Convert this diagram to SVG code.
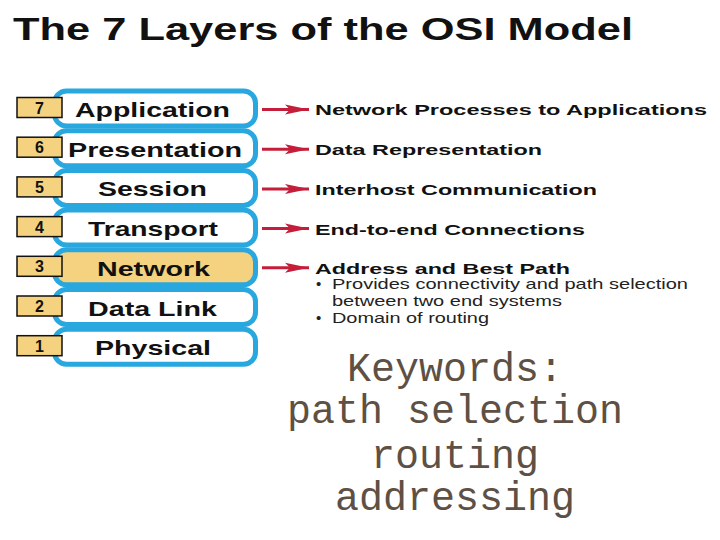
<svg xmlns="http://www.w3.org/2000/svg" width="720" height="540" viewBox="0 0 720 540">
<style>
.layer{fill:#ffffff;stroke:#29a8df;stroke-width:5}
.layer.hl{fill:#f4d27f}
.num{fill:#f4d27f;stroke:#111;stroke-width:1.5}
.numt{font-family:"Liberation Sans",Arial,sans-serif;font-weight:bold;font-size:16px;fill:#111;text-anchor:middle}
.lbl{font-family:"Liberation Sans",Arial,sans-serif;font-weight:bold;font-size:21px;fill:#111}
.desc{font-family:"Liberation Sans",Arial,sans-serif;font-weight:bold;font-size:15.5px;fill:#111}
.sub{font-family:"Liberation Sans",Arial,sans-serif;font-size:15px;fill:#222}
.kw{font-family:"Liberation Mono","Courier New",monospace;font-size:40px;fill:#5e5044;text-anchor:middle}
.arr{stroke:#c41e3a;stroke-width:3;fill:none}
</style>
<defs>
<marker id="ah" markerUnits="userSpaceOnUse" markerWidth="26" markerHeight="11" refX="24" refY="5.5" orient="auto">
<path d="M0,0.5 L24,5.5 L0,10.5 L5,5.5 Z" fill="#c41e3a"/>
</marker>
</defs>
<rect width="720" height="540" fill="#ffffff"/>
<text id="title" x="13" y="40" font-family="'Liberation Sans',Arial,sans-serif" font-weight="bold" font-size="32" fill="#111" textLength="620" lengthAdjust="spacingAndGlyphs">The 7 Layers of the OSI Model</text>

<g id="layer7">
<rect class="layer" x="54.5" y="91" width="201" height="35" rx="12"/>
<rect class="num" x="17" y="97.5" width="45" height="20"/>
<text class="numt" x="39.5" y="113.5">7</text>
<text class="lbl" x="75" y="117" textLength="155" lengthAdjust="spacingAndGlyphs">Application</text>
</g>
<g id="layer6">
<rect class="layer" x="54.5" y="130.7" width="201" height="35" rx="12"/>
<rect class="num" x="17" y="137.2" width="45" height="20"/>
<text class="numt" x="39.5" y="153.2">6</text>
<text class="lbl" x="68" y="156.7" textLength="174" lengthAdjust="spacingAndGlyphs">Presentation</text>
</g>
<g id="layer5">
<rect class="layer" x="54.5" y="170.4" width="201" height="35" rx="12"/>
<rect class="num" x="17" y="176.9" width="45" height="20"/>
<text class="numt" x="39.5" y="192.9">5</text>
<text class="lbl" x="98" y="196.4" textLength="109" lengthAdjust="spacingAndGlyphs">Session</text>
</g>
<g id="layer4">
<rect class="layer" x="54.5" y="210.1" width="201" height="35" rx="12"/>
<rect class="num" x="17" y="216.6" width="45" height="20"/>
<text class="numt" x="39.5" y="232.6">4</text>
<text class="lbl" x="88" y="236.1" textLength="130" lengthAdjust="spacingAndGlyphs">Transport</text>
</g>
<g id="layer3">
<rect class="layer hl" x="54.5" y="249.8" width="201" height="35" rx="12"/>
<rect class="num" x="17" y="256.3" width="45" height="20"/>
<text class="numt" x="39.5" y="272.3">3</text>
<text class="lbl" x="97" y="275.8" textLength="113" lengthAdjust="spacingAndGlyphs">Network</text>
</g>
<g id="layer2">
<rect class="layer" x="54.5" y="289.5" width="201" height="35" rx="12"/>
<rect class="num" x="17" y="296" width="45" height="20"/>
<text class="numt" x="39.5" y="312">2</text>
<text class="lbl" x="88" y="315.5" textLength="129" lengthAdjust="spacingAndGlyphs">Data Link</text>
</g>
<g id="layer1">
<rect class="layer" x="54.5" y="329.2" width="201" height="35" rx="12"/>
<rect class="num" x="17" y="335.7" width="45" height="20"/>
<text class="numt" x="39.5" y="351.7">1</text>
<text class="lbl" x="95" y="355.2" textLength="116" lengthAdjust="spacingAndGlyphs">Physical</text>
</g>

<g id="connectors">
<line class="arr" x1="262" y1="109.5" x2="309" y2="109.5" marker-end="url(#ah)"/>
<line class="arr" x1="262" y1="149.2" x2="309" y2="149.2" marker-end="url(#ah)"/>
<line class="arr" x1="262" y1="188.9" x2="309" y2="188.9" marker-end="url(#ah)"/>
<line class="arr" x1="262" y1="228.6" x2="309" y2="228.6" marker-end="url(#ah)"/>
<line class="arr" x1="262" y1="267.8" x2="309" y2="267.8" marker-end="url(#ah)"/>
</g>

<g id="desc7"><text class="desc" x="315" y="115" textLength="392" lengthAdjust="spacingAndGlyphs">Network Processes to Applications</text></g>
<g id="desc6"><text class="desc" x="315" y="155" textLength="227" lengthAdjust="spacingAndGlyphs">Data Representation</text></g>
<g id="desc5"><text class="desc" x="315" y="195" textLength="282" lengthAdjust="spacingAndGlyphs">Interhost Communication</text></g>
<g id="desc4"><text class="desc" x="315" y="235" textLength="270" lengthAdjust="spacingAndGlyphs">End-to-end Connections</text></g>
<g id="desc3">
<text class="desc" x="315" y="273.5" textLength="255" lengthAdjust="spacingAndGlyphs">Address and Best Path</text>
<text class="sub" x="316" y="289">•</text>
<text class="sub" x="332" y="289" textLength="356" lengthAdjust="spacingAndGlyphs">Provides connectivity and path selection</text>
<text class="sub" x="332" y="306" textLength="230" lengthAdjust="spacingAndGlyphs">between two end systems</text>
<text class="sub" x="316" y="323">•</text>
<text class="sub" x="332" y="323" textLength="157" lengthAdjust="spacingAndGlyphs">Domain of routing</text>
</g>

<g id="keywords">
<text class="kw" x="455" y="381">Keywords:</text>
<text class="kw" x="455" y="423">path selection</text>
<text class="kw" x="455" y="468">routing</text>
<text class="kw" x="455" y="510">addressing</text>
</g>
</svg>
